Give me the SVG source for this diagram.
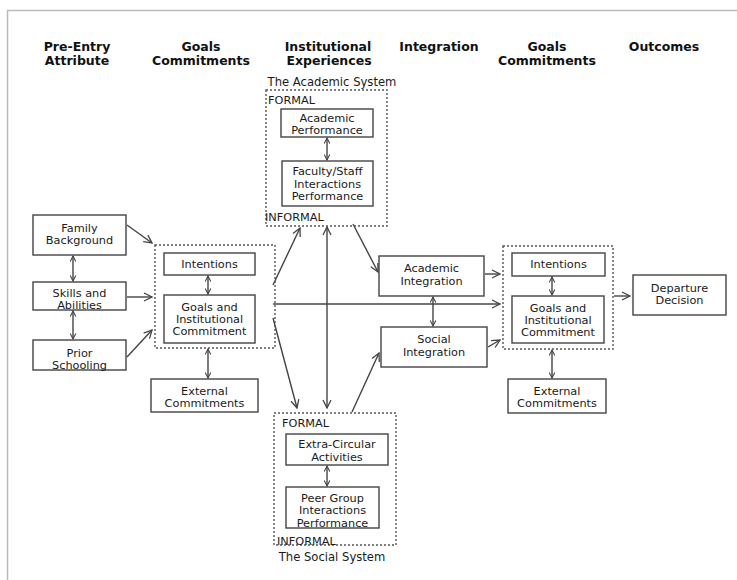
<svg xmlns="http://www.w3.org/2000/svg" width="737" height="580" viewBox="0 0 737 580">
<style>
.hd{font-family:"DejaVu Sans",Verdana,sans-serif;font-weight:bold;font-size:12.5px;fill:#111;text-anchor:middle}
.t{font-family:"DejaVu Sans",Verdana,sans-serif;font-size:11.3px;fill:#1a1a1a;text-anchor:middle}
.l{font-family:"DejaVu Sans",Verdana,sans-serif;font-size:11.3px;fill:#1a1a1a}
.box{fill:#fff;stroke:#444;stroke-width:1.4}
.dash{fill:none;stroke:#555;stroke-width:1.4;stroke-dasharray:2,2}
.c{fill:none;stroke:#444;stroke-width:1.4}
</style>
<defs>
<marker id="ah" viewBox="0 0 10 10" refX="9" refY="5" markerWidth="10" markerHeight="10" markerUnits="userSpaceOnUse" orient="auto-start-reverse">
<path d="M1,1 L9,5 L1,9" fill="none" stroke="#444" stroke-width="1.3"/>
</marker>
<marker id="sh" viewBox="0 0 10 10" refX="9" refY="5" markerWidth="7" markerHeight="7" markerUnits="userSpaceOnUse" orient="auto-start-reverse">
<path d="M1,1 L9,5 L1,9" fill="none" stroke="#444" stroke-width="1.5"/>
</marker>
</defs>
<rect width="737" height="580" fill="#fff"/>
<g id="frame" stroke="#bbb" stroke-width="1.5">
<line x1="7.5" y1="10" x2="7.5" y2="580"/>
<line x1="7" y1="10.5" x2="737" y2="10.5"/>
</g>
<g id="headers">
<text class="hd" x="77" y="51">Pre-Entry</text>
<text class="hd" x="77" y="65">Attribute</text>
<text class="hd" x="201" y="51">Goals</text>
<text class="hd" x="201" y="65">Commitments</text>
<text class="hd" x="328" y="51">Institutional</text>
<text class="hd" x="329" y="65">Experiences</text>
<text class="hd" x="439" y="51">Integration</text>
<text class="hd" x="547" y="51">Goals</text>
<text class="hd" x="547" y="65">Commitments</text>
<text class="hd" x="664" y="51">Outcomes</text>
</g>
<g id="connectors">
<line class="c" x1="127" y1="225" x2="152" y2="243" marker-end="url(#ah)"/>
<line class="c" x1="127" y1="297" x2="152" y2="297" marker-end="url(#ah)"/>
<line class="c" x1="127" y1="357" x2="152" y2="330" marker-end="url(#ah)"/>
<line class="c" x1="73" y1="256" x2="73" y2="281" marker-start="url(#sh)" marker-end="url(#sh)"/>
<line class="c" x1="73" y1="311" x2="73" y2="339" marker-start="url(#sh)" marker-end="url(#sh)"/>
<line class="c" x1="208" y1="276" x2="208" y2="294" marker-start="url(#sh)" marker-end="url(#sh)"/>
<line class="c" x1="208" y1="349" x2="208" y2="378" marker-start="url(#sh)" marker-end="url(#sh)"/>
<line class="c" x1="327" y1="138" x2="327" y2="160" marker-start="url(#sh)" marker-end="url(#sh)"/>
<line class="c" x1="327" y1="466" x2="327" y2="486" marker-start="url(#sh)" marker-end="url(#sh)"/>
<line class="c" x1="433" y1="297" x2="433" y2="326" marker-start="url(#sh)" marker-end="url(#sh)"/>
<line class="c" x1="552" y1="277" x2="552" y2="295" marker-start="url(#sh)" marker-end="url(#sh)"/>
<line class="c" x1="552" y1="350" x2="552" y2="378" marker-start="url(#sh)" marker-end="url(#sh)"/>
<line class="c" x1="273" y1="285" x2="300" y2="228" marker-end="url(#ah)"/>
<line class="c" x1="273" y1="318" x2="297" y2="408" marker-end="url(#ah)"/>
<line class="c" x1="327" y1="227" x2="327" y2="408" marker-start="url(#ah)" marker-end="url(#ah)"/>
<line class="c" x1="273" y1="304" x2="500" y2="304" marker-end="url(#ah)"/>
<line class="c" x1="353" y1="224" x2="378" y2="272" marker-end="url(#ah)"/>
<line class="c" x1="352" y1="412" x2="379" y2="353" marker-end="url(#ah)"/>
<line class="c" x1="485" y1="274" x2="500" y2="274" marker-end="url(#ah)"/>
<line class="c" x1="488" y1="347" x2="500" y2="340" marker-end="url(#ah)"/>
<line class="c" x1="614" y1="296" x2="630" y2="296" marker-end="url(#ah)"/>
</g>
<g id="family-background">
<rect class="box" x="33" y="215" width="93" height="40"/>
<text class="t" x="79.5" y="232">Family</text>
<text class="t" x="79.5" y="244">Background</text>
</g>
<g id="skills-abilities">
<rect class="box" x="33" y="282" width="93" height="28"/>
<text class="t" x="79.5" y="297">Skills and</text>
<text class="t" x="79.5" y="309">Abilities</text>
</g>
<g id="prior-schooling">
<rect class="box" x="33" y="340" width="93" height="30"/>
<text class="t" x="79.5" y="357">Prior</text>
<text class="t" x="79.5" y="369">Schooling</text>
</g>
<g id="goals-left">
<rect class="dash" x="155" y="245" width="120" height="103"/>
<rect class="box" x="164" y="253" width="91" height="22"/>
<text class="t" x="209.5" y="268">Intentions</text>
<rect class="box" x="164" y="295" width="91" height="48"/>
<text class="t" x="209.5" y="311">Goals and</text>
<text class="t" x="209.5" y="323">Institutional</text>
<text class="t" x="209.5" y="335">Commitment</text>
</g>
<g id="external-left">
<rect class="box" x="151" y="379" width="107" height="33"/>
<text class="t" x="204.5" y="395">External</text>
<text class="t" x="204.5" y="407">Commitments</text>
</g>
<g id="academic-system">
<text class="t" x="332" y="86" style="font-size:11.6px">The Academic System</text>
<rect class="dash" x="266" y="90" width="121" height="136"/>
<text class="l" x="268" y="104">FORMAL</text>
<rect class="box" x="281" y="109" width="92" height="28"/>
<text class="t" x="327" y="122">Academic</text>
<text class="t" x="327" y="134">Performance</text>
<rect class="box" x="282" y="161" width="91" height="45"/>
<text class="t" x="327.5" y="175">Faculty/Staff</text>
<text class="t" x="327.5" y="188">Interactions</text>
<text class="t" x="327.5" y="200">Performance</text>
<text class="l" x="265" y="221">INFORMAL</text>
</g>
<g id="academic-integration">
<rect class="box" x="379" y="256" width="105" height="40"/>
<text class="t" x="431.5" y="272">Academic</text>
<text class="t" x="431.5" y="285">Integration</text>
</g>
<g id="social-integration">
<rect class="box" x="381" y="327" width="106" height="40"/>
<text class="t" x="434" y="343">Social</text>
<text class="t" x="434" y="356">Integration</text>
</g>
<g id="goals-right">
<rect class="dash" x="503" y="246" width="110" height="103"/>
<rect class="box" x="512" y="253" width="93" height="23"/>
<text class="t" x="558.5" y="268">Intentions</text>
<rect class="box" x="512" y="296" width="92" height="47"/>
<text class="t" x="558" y="312">Goals and</text>
<text class="t" x="558" y="324">Institutional</text>
<text class="t" x="558" y="336">Commitment</text>
</g>
<g id="external-right">
<rect class="box" x="508" y="379" width="98" height="34"/>
<text class="t" x="557" y="395">External</text>
<text class="t" x="557" y="407">Commitments</text>
</g>
<g id="departure-decision">
<rect class="box" x="633" y="275" width="93" height="40"/>
<text class="t" x="679.5" y="292">Departure</text>
<text class="t" x="679.5" y="304">Decision</text>
</g>
<g id="social-system">
<rect class="dash" x="274" y="413" width="122" height="132"/>
<text class="l" x="282" y="427">FORMAL</text>
<rect class="box" x="286" y="434" width="102" height="31"/>
<text class="t" x="337" y="448">Extra-Circular</text>
<text class="t" x="337" y="461">Activities</text>
<rect class="box" x="286" y="487" width="93" height="41"/>
<text class="t" x="332.5" y="502">Peer Group</text>
<text class="t" x="332.5" y="514">Interactions</text>
<text class="t" x="332.5" y="527">Performance</text>
<text class="l" x="277" y="545">INFORMAL</text>
<text class="t" x="332" y="561" style="font-size:11.6px">The Social System</text>
</g>
</svg>
